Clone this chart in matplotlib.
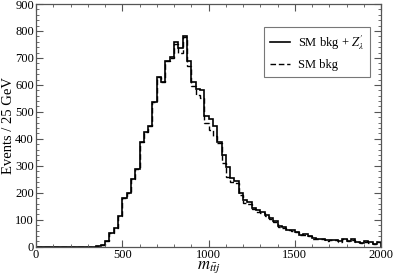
import numpy as np
import matplotlib
matplotlib.use("Agg")
import matplotlib.pyplot as plt
from matplotlib.ticker import MultipleLocator

# bins of 25 GeV from 0 to 2000
edges = np.arange(0, 2001, 25)

# SM bkg + Z'_lambda (solid), one value per bin
sig = [0, 0, 0, 0, 0, 0, 0, 0, 0, 0, 0, 0, 0, 0,
       2, 6, 22, 50, 68, 114, 181, 198, 250, 289,
       387, 424, 449, 535, 629, 610, 688, 704, 758, 735,
       783, 688, 610, 585, 582, 486, 473, 446, 390, 341,
       297, 254, 242, 198, 174, 165, 142, 135, 128, 118,
       108, 95, 75, 73, 63, 62, 55, 45, 46, 40,
       31, 29, 30, 23, 25, 25, 20, 29, 21, 27,
       18, 14, 20, 16, 10, 18]

# SM bkg only (dashed)
bkg = [0, 0, 0, 0, 0, 0, 0, 0, 0, 0, 0, 0, 0, 0,
       2, 6, 22, 50, 68, 114, 181, 198, 250, 289,
       387, 424, 449, 535, 629, 610, 688, 700, 753, 718,
       778, 669, 595, 564, 551, 458, 434, 409, 384, 310,
       260, 240, 236, 190, 161, 158, 138, 130, 124, 115,
       104, 92, 72, 70, 61, 60, 53, 44, 45, 39,
       30, 28, 29, 22, 24, 24, 19, 28, 20, 26,
       17, 13, 19, 15, 9, 17]

plt.rcParams['font.family'] = ['Liberation Serif', 'DejaVu Serif']
plt.rcParams['mathtext.fontset'] = 'stix'

fig = plt.figure(figsize=(3.94, 2.78), dpi=100)
ax = fig.add_axes([0.0914, 0.1126, 0.876, 0.873])

ax.stairs(sig, edges, color='black', lw=1.2, label=r"SM bkg + $Z^{\prime}_{\lambda}$")
ax.stairs(bkg, edges, color='black', lw=1.0, ls=(0, (4, 2)), label="SM bkg")

ax.set_xlim(0, 2000)
ax.set_ylim(0, 900)
ax.xaxis.set_major_locator(MultipleLocator(500))
ax.xaxis.set_minor_locator(MultipleLocator(100))
ax.yaxis.set_major_locator(MultipleLocator(100))
ax.yaxis.set_minor_locator(MultipleLocator(20))
ax.tick_params(which='both', direction='in', top=True, right=True,
               labelsize=9, pad=1.5, color='#555555')
ax.tick_params(which='major', length=5)
ax.tick_params(which='minor', length=2.5)
for s in ax.spines.values():
    s.set_color('#555555')
    s.set_linewidth(0.9)

ax.set_xlabel(r"$m_{t\bar{t}j}$", fontsize=12, labelpad=-1)
ax.set_ylabel("Events / 25 GeV", fontsize=10.5)
ax.yaxis.set_label_coords(-0.06, 0.5)

leg = ax.legend(loc='upper right', bbox_to_anchor=(0.985, 0.93), fontsize=9,
                frameon=True, fancybox=False, handlelength=1.6,
                borderpad=0.5, labelspacing=0.55, handletextpad=0.6)
leg.get_frame().set_edgecolor('#555555')
leg.get_frame().set_linewidth(0.8)

fig.savefig("out.png", dpi=100)
